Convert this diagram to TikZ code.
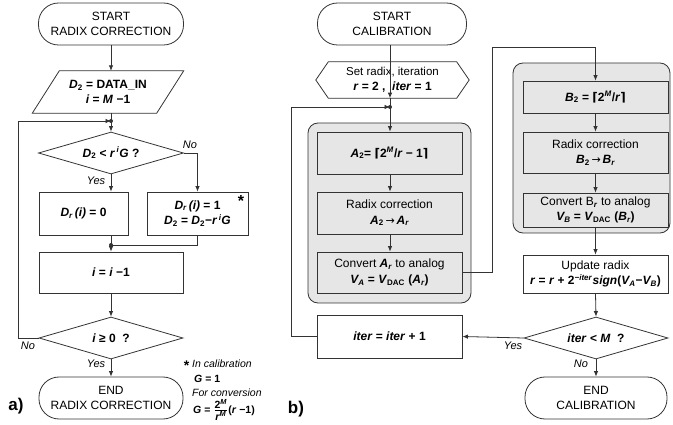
\documentclass[tikz,border=0pt]{standalone}
\usepackage{fontspec}
\setmainfont{Liberation Sans}
\newfontfamily\symf{DejaVu Sans}
\usepackage{amsmath}
\usetikzlibrary{arrows.meta,calc,shapes.geometric}
\newcommand{\bfit}[1]{\textbf{\textit{#1}}}
\newcommand{\lsub}[1]{\textsubscript{#1}}
\newcommand{\lsup}[1]{\textsuperscript{#1}}
\newcommand{\rarr}{{\symf\mdseries\fontsize{11}{11}\selectfont\,→\,}}
\definecolor{ln}{HTML}{333333}
\definecolor{gr}{HTML}{E6E6E6}
\tikzset{
 base/.style={align=center, font=\fontsize{12}{15.5}\selectfont, text=black, inner sep=1pt},
 stadium/.style={base, draw=ln, line width=0.8pt, rounded corners=20pt, minimum height=42},
 box/.style={base, draw=ln, line width=0.8pt, fill=white},
 gbox/.style={box, fill=gr},
 dia/.style={base, draw=ln, line width=0.8pt, diamond, aspect=3.4, inner sep=0pt},
 cont/.style={draw=ln, line width=0.8pt, fill=gr, rounded corners=10pt},
 lin/.style={draw=ln, line width=0.8pt},
 arr/.style={lin, -{Latex[length=5.5pt,width=4.5pt]}},
 lbl/.style={font=\fontsize{11}{12}\selectfont\itshape, inner sep=0pt},
 dot/.style={fill=ln}
}
\begin{document}
\begin{tikzpicture}[x=1pt,y=-1pt]
\useasboundingbox (0,0) rectangle (673,425);
% ---------------- a) ----------------
\node[stadium, minimum width=145] (sa) at (111,24) {START\\RADIX CORRECTION};
\node[base, minimum width=124, minimum height=42] (pa) at (108,92)
  {\textbf{\textit{D}\lsub{2} = DATA\_IN}\\ \textbf{\textit{i} = \textit{M} −1}};
\draw[lin] ($(pa.north west)+(13.5,0)$) -- ($(pa.north east)+(13.5,0)$) -- ($(pa.south east)+(-13.5,0)$) -- ($(pa.south west)+(-13.5,0)$) -- cycle;
\coordinate (ja) at (111,121);
\node[dia, minimum width=145, minimum height=42] (da) at (111,153)
  {\textbf{\textit{D}\lsub{2} < \textit{r\,\lsup{i}G} ?}};
\node[box, minimum width=89, minimum height=43] (b0) at (83.5,213.5)
  {\textbf{\textit{D\lsub{r}\,(i)} = 0}};
\node[box, minimum width=101, minimum height=43] (b1) at (197.5,213.5)
  {\textbf{\textit{D\lsub{r}\,(i)} = 1}\\ \textbf{\textit{D}\lsub{2} = \textit{D}\lsub{2}−\textit{r\,\lsup{i}G}}};
\node[base, font=\fontsize{16}{16}\selectfont\bfseries, inner sep=0pt] (st1) at (241,201) {*};
\coordinate (jb) at (111,245);
\node[box, minimum width=144, minimum height=41] (bi) at (111,272.5)
  {\textbf{\textit{i} = \textit{i} −1}};
\node[dia, minimum width=144, minimum height=42] (db) at (111,338)
  {\textbf{\textit{i} ≥ 0 \ ?}};
\node[stadium, minimum width=144] (ea) at (111,398) {END\\RADIX CORRECTION};
% connectors a
\draw[arr] (sa.south) -- (sa.south |- pa.north);
\draw[arr] (sa.south |- pa.south) -- (da.north);
\draw[arr] (db.west) -- ++(-20,0) |- (ja);
\fill[dot] (ja) circle (2);
\draw[arr] (da.east) -| (b1.north);
\draw[arr] (da.south) -- (da.south |- b0.north);
\draw[lin] (da.south |- b0.south) -- (jb);
\draw[lin] (b1.south) |- (jb);
\fill[dot] (jb) circle (2);
\draw[arr] (jb) -- (bi.north);
\draw[arr] (bi.south) -- (db.north);
\draw[arr] (db.south) -- (ea.north);
\node[lbl] (lnoa) at (190,145) {No};
\node[lbl] (lyesa) at (96,181) {Yes};
\node[lbl] (lnob) at (28,346) {No};
\node[lbl] (lyesb) at (96,364) {Yes};
% footnote
\node[base, font=\fontsize{14}{14}\selectfont\bfseries, inner sep=0pt] (st2) at (186.5,366) {*};
\node[lbl, anchor=west, font=\fontsize{10.5}{12}\selectfont\itshape] (fn1) at (192,364) {In calibration};
\node[base, anchor=west, inner sep=0pt, font=\fontsize{10.5}{12}\selectfont\bfseries] (fn2) at (194,378.5) {\textit{G} = 1};
\node[lbl, anchor=west, font=\fontsize{10.5}{12}\selectfont\itshape] (fn3) at (192,393) {For conversion};
\node[base, anchor=west, inner sep=0pt, font=\fontsize{10.5}{12}\selectfont\bfseries] (fn4) at (193,410)
  {\textit{G} = $\frac{\text{\fontsize{10.5}{10}\selectfont\bfseries 2\lsup{\textit{M}}}}{\text{\fontsize{10.5}{10}\selectfont\bfseries\itshape r\lsup{M}}}$(\textit{r} −1)};
\node[base, font=\fontsize{17}{17}\selectfont\bfseries, inner sep=0pt] (la) at (16,406) {a)};
% ---------------- b) ----------------
\path[cont] (308,123) rectangle (471,303);
\path[cont] (513,63) rectangle (670,233);
\node[stadium, minimum width=149] (sb) at (392,24) {START\\CALIBRATION};
\node[base, minimum width=128, minimum height=36] (hx) at (392.5,80)
  {{\fontsize{11.5}{14}\selectfont Set radix, iteration}\\ \textbf{\textit{r} = 2 , \ \textit{iter} = 1}};
\draw[lin] (hx.north west) -- (hx.north east) -- ($(hx.east)+(12.5,0)$) -- (hx.south east) -- (hx.south west) -- ($(hx.west)+(-12.5,0)$) -- cycle;
\coordinate (jc) at (390,107);
\node[gbox, minimum width=145, minimum height=42] (a2) at (389.5,153)
  {\textbf{\textit{A}\lsub{2}= {\symf ⌈}2\lsup{\textit{M}}/\textit{r} − 1{\symf ⌉}}};
\node[gbox, minimum width=145, minimum height=42] (rca) at (389.5,213)
  {Radix correction\\ \textbf{\textit{A}\lsub{2}\rarr\textit{A\lsub{r}}}};
\node[gbox, minimum width=145, minimum height=41] (cva) at (389.5,272.5)
  {Convert \bfit{A\lsub{r}} to analog\\ \textbf{\textit{V\lsub{A}} = \textit{V}\lsub{DAC} (\textit{A\lsub{r}})}};
\node[box, minimum width=145, minimum height=43] (it) at (389.5,336.5)
  {\textbf{\textit{iter} = \textit{iter} + 1}};
\node[gbox, minimum width=145, minimum height=32] (b2) at (595.5,97)
  {\textbf{\textit{B}\lsub{2} = {\symf ⌈}2\lsup{\textit{M}}/\textit{r}{\symf ⌉}}};
\node[gbox, minimum width=145, minimum height=41] (rcb) at (595.5,152.5)
  {Radix correction\\ \textbf{\textit{B}\lsub{2}\rarr\textit{B\lsub{r}}}};
\node[gbox, minimum width=145, minimum height=34] (cvb) at (595.5,210)
  {Convert B\lsub{\bfit{r}} to analog\\ \textbf{\textit{V\lsub{B}} = \textit{V}\lsub{DAC} (\textit{B\lsub{r}})}};
\node[box, minimum width=145, minimum height=38] (upd) at (595.5,274)
  {Update radix\\ \textbf{\textit{r} = \textit{r} + 2\lsup{\textit{−iter}}\textit{sign}(\textit{V\lsub{A}}−\textit{V\lsub{B}})}};
\node[dia, minimum width=144, minimum height=42] (dm) at (596,338)
  {\textbf{\textit{iter} < \textit{M} \ ?}};
\node[stadium, minimum width=142] (eb) at (596,398) {END\\CALIBRATION};
% connectors b
\draw[arr] (sb.south -| jc) -- (hx.south -| jc);
\draw[arr] (hx.south -| jc) -- (a2.north -| jc);
\draw[arr] (it.west) -- ++(-25,0) |- (jc);
\fill[dot] (jc) circle (2);
\draw[arr] (a2.south -| jc) -- (rca.north -| jc);
\draw[arr] (rca.south -| jc) -- (cva.north -| jc);
\draw[arr] (cva.east) -- ++(30,0) |- ($(b2.north)+(0,-33)$) -- (b2.north);
\draw[arr] (b2.south) -- (rcb.north);
\draw[arr] (rcb.south) -- (cvb.north);
\draw[arr] (cvb.south) -- (upd.north);
\draw[arr] (upd.south) -- (dm.north);
\draw[arr] (dm.west) -- (it.east);
\draw[arr] (dm.south) -- (eb.north);
\node[lbl] (lyesc) at (513,346) {Yes};
\node[lbl] (lnoc) at (581,364) {No};
\node[base, font=\fontsize{17}{17}\selectfont\bfseries, inner sep=0pt] (lb) at (296,409) {b)};
\end{tikzpicture}
\end{document}
